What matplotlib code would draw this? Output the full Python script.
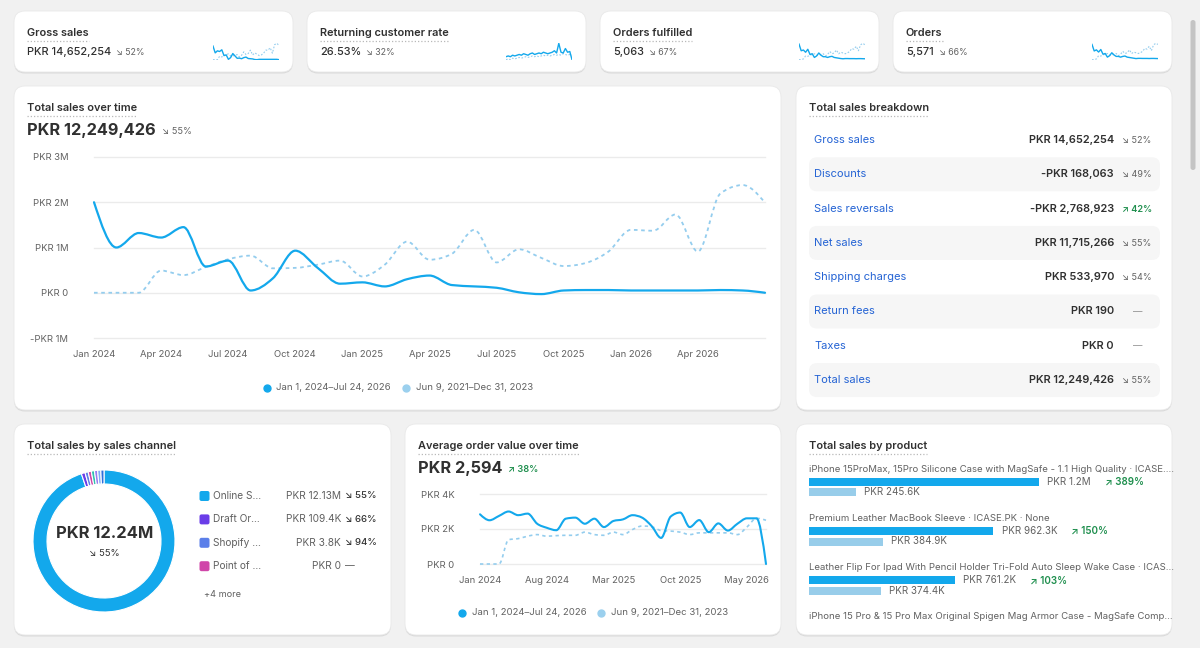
import numpy as np
import matplotlib
matplotlib.use('Agg')
import matplotlib.pyplot as plt
from matplotlib.patches import FancyBboxPatch, PathPatch
from matplotlib.path import Path

plt.rcParams['font.family'] = ['Inter', 'DejaVu Sans']

W, H = 1200, 648

# ---------------- data ----------------
kpi_titles = ['Gross sales', 'Returning customer rate', 'Orders fulfilled', 'Orders']
kpi_values = ['PKR 14,652,254', '26.53%', '5,063', '5,571']
kpi_changes = ['52%', '32%', '67%', '66%']
kpi_up = [False, True, False, False]

spark_gross_cur = [2.0, 1.0, 1.3, 1.2, 1.45, 0.6, 0.7, 0.05, 0.3, 0.9, 0.55, 0.2, 0.23, 0.14, 0.3, 0.38,
                   0.17, 0.14, 0.11, 0.02, 0.0, 0.05, 0.05, 0.05, 0.05, 0.05, 0.05, 0.05, 0.05, 0.05, 0.0]
spark_gross_prev = [0.0, 0.0, 0.0, 0.5, 0.4, 0.6, 0.75, 0.85, 0.55, 0.55, 0.65, 0.75, 0.4, 0.65, 1.15, 0.75,
                    0.9, 1.4, 0.7, 1.0, 0.8, 0.6, 0.7, 0.95, 1.4, 1.4, 1.75, 0.95, 2.2, 2.4, 2.1]
spark_rate_cur = [22, 23, 22, 24, 23, 24, 25, 24, 26, 25, 24, 26, 27, 25, 26, 27, 26, 28, 27, 26, 27, 28, 30,
                  27, 40, 28, 27, 33, 28, 29, 18]
spark_rate_prev = [18, 19, 18, 20, 19, 20, 21, 20, 21, 22, 21, 22, 23, 22, 23, 22, 23, 24, 23, 24, 23, 24,
                   25, 24, 25, 24, 26, 25, 24, 25, 24]
spark_fulfilled_cur = [2.1, 1.2, 1.3, 1.0, 1.4, 0.7, 0.8, 0.3, 0.5, 0.9, 0.6, 0.4, 0.4, 0.3, 0.4, 0.45,
                       0.3, 0.25, 0.2, 0.15, 0.12, 0.15, 0.15, 0.14, 0.14, 0.14, 0.13, 0.14, 0.14, 0.13, 0.12]
spark_fulfilled_prev = [0.0, 0.0, 0.1, 0.5, 0.45, 0.6, 0.7, 0.8, 0.6, 0.6, 0.7, 0.8, 0.5, 0.7, 1.1, 0.8,
                        0.9, 1.3, 0.8, 1.0, 0.9, 0.8, 0.9, 1.1, 1.5, 1.4, 1.8, 1.2, 2.0, 2.2, 2.0]
spark_orders_cur = [2.1, 1.2, 1.35, 1.05, 1.4, 0.75, 0.85, 0.35, 0.55, 0.95, 0.65, 0.45, 0.45, 0.35, 0.45,
                    0.5, 0.35, 0.3, 0.25, 0.2, 0.15, 0.18, 0.18, 0.17, 0.17, 0.17, 0.16, 0.17, 0.17, 0.16, 0.15]
spark_orders_prev = [0.0, 0.0, 0.1, 0.55, 0.5, 0.65, 0.75, 0.85, 0.65, 0.65, 0.75, 0.85, 0.55, 0.75, 1.15,
                     0.85, 0.95, 1.35, 0.85, 1.05, 0.95, 0.85, 0.95, 1.15, 1.55, 1.45, 1.85, 1.25, 2.05, 2.25, 2.1]

main_tick_labels = ['Jan 2024', 'Apr 2024', 'Jul 2024', 'Oct 2024', 'Jan 2025', 'Apr 2025',
                    'Jul 2025', 'Oct 2025', 'Jan 2026', 'Apr 2026']
main_yticks = [-1, 0, 1, 2, 3]
main_ytick_labels = ['-PKR 1M', 'PKR 0', 'PKR 1M', 'PKR 2M', 'PKR 3M']
# monthly total sales, PKR millions (Jan 2024 .. Jul 2026)
sales_current = [2.00, 1.00, 1.32, 1.22, 1.45, 0.58, 0.71, 0.05, 0.32, 0.93, 0.55, 0.20, 0.23, 0.14, 0.30,
                 0.38, 0.17, 0.14, 0.11, 0.01, -0.03, 0.05, 0.06, 0.06, 0.05, 0.05, 0.05, 0.05, 0.06, 0.05, 0.00]
sales_previous = [0.00, 0.00, 0.00, 0.49, 0.39, 0.57, 0.74, 0.82, 0.54, 0.55, 0.62, 0.71, 0.36, 0.62, 1.13,
                  0.73, 0.86, 1.39, 0.67, 0.96, 0.77, 0.59, 0.66, 0.91, 1.39, 1.37, 1.73, 0.91, 2.19, 2.38, 1.99]
legend_current = 'Jan 1, 2024\u2013Jul 24, 2026'
legend_previous = 'Jun 9, 2021\u2013Dec 31, 2023'

breakdown_labels = ['Gross sales', 'Discounts', 'Sales reversals', 'Net sales', 'Shipping charges',
                    'Return fees', 'Taxes', 'Total sales']
breakdown_values = ['PKR 14,652,254', '-PKR 168,063', '-PKR 2,768,923', 'PKR 11,715,266', 'PKR 533,970',
                    'PKR 190', 'PKR 0', 'PKR 12,249,426']
breakdown_changes = ['52%', '49%', '42%', '55%', '54%', None, None, '55%']
breakdown_up = [False, False, True, False, False, None, None, False]

channel_names = ['Online S...', 'Draft Or...', 'Shopify ...', 'Point of ...']
channel_value_labels = ['PKR 12.13M', 'PKR 109.4K', 'PKR 3.8K', 'PKR 0']
channel_changes = ['55%', '66%', '94%', None]
channel_values = [12130000, 109400, 3800, 0, 1200, 800, 500, 200]
channel_colors = ['#13a8ec', '#6a3de8', '#5b7fe9', '#d046a9', '#2fc2b1', '#9a7cf1', '#7eb0f6', '#2f6fdb']

aov_tick_labels = ['Jan 2024', 'Aug 2024', 'Mar 2025', 'Oct 2025', 'May 2026']
aov_yticks = [0, 2000, 4000]
aov_ytick_labels = ['PKR 0', 'PKR 2K', 'PKR 4K']
aov_current = [2840, 2500, 2750, 3000, 2790, 2880, 2300, 2070, 1930, 2590, 2650, 2300, 2590, 2110, 2460,
               2550, 2790, 2650, 2170, 1490, 2710, 2940, 2110, 2510, 1820, 2320, 1910, 2300, 2610, 2610, 0]
aov_previous = [0, 0, 0, 1390, 1450, 1590, 1680, 1590, 1620, 1640, 1640, 1820, 1680, 1640, 1820, 1680, 1970,
                2170, 2130, 1910, 1880, 1820, 1680, 1780, 1780, 1780, 1780, 1680, 2110, 2610, 2500]

product_names = ['iPhone 15ProMax, 15Pro Silicone Case with MagSafe - 1.1 High Quality \u00b7 ICASE....',
                 'Premium Leather MacBook Sleeve \u00b7 ICASE.PK \u00b7 None',
                 'Leather Flip For Ipad With Pencil Holder Tri-Fold Auto Sleep Wake Case \u00b7 ICAS...',
                 'iPhone 15 Pro & 15 Pro Max Original Spigen Mag Armor Case - MagSafe Comp...']
product_current = [1200000, 962300, 761200]
product_previous = [245600, 384900, 374400]
product_current_labels = ['PKR 1.2M', 'PKR 962.3K', 'PKR 761.2K']
product_previous_labels = ['PKR 245.6K', 'PKR 384.9K', 'PKR 374.4K']
product_changes = ['389%', '150%', '103%']

# ---------------- style ----------------
BLUE = '#13a8ec'
LIGHT = '#94cdee'
DARK = '#303030'
GREY = '#616161'
GREEN = '#1f8f4e'
LINK = '#2463d4'
UP, DOWN = '\u2197', '\u2198'

fig = plt.figure(figsize=(12, 6.48), dpi=100, facecolor='#f1f1f1')
bg = fig.add_axes([0, 0, 1, 1])
bg.set_xlim(0, W)
bg.set_ylim(H, 0)
bg.axis('off')
renderer = fig.canvas.get_renderer()


def px_axes(x0, y0, x1, y1):
    a = fig.add_axes([x0 / W, 1 - y1 / H, (x1 - x0) / W, (y1 - y0) / H])
    a.patch.set_visible(False)
    for s in a.spines.values():
        s.set_visible(False)
    return a


def card(x0, y0, x1, y1):
    bg.add_patch(FancyBboxPatch((x0, y0 + 1.5), x1 - x0, y1 - y0, boxstyle='round,pad=0,rounding_size=11',
                                fc='#dadada', ec='none', zorder=1))
    bg.add_patch(FancyBboxPatch((x0, y0), x1 - x0, y1 - y0, boxstyle='round,pad=0,rounding_size=11',
                                fc='white', ec='#e9e9e9', lw=0.6, zorder=2))


def txt(x, y, s, size, color=DARK, weight='normal', ha='left', va='center'):
    return bg.text(x, y, s, fontsize=size, color=color, fontweight=weight, ha=ha, va=va, zorder=6)


def width_of(t):
    return t.get_window_extent(renderer).width


def title(x, y, s):
    t = txt(x, y, s, 7.9, DARK, 'semibold')
    w = width_of(t)
    bg.plot([x, x + w], [y + 7.5, y + 7.5], color='#b9b9b9', lw=0.9, ls=(0, (1, 1.6)), zorder=6)
    return t


def change(x, y, pct, up, size=6.6, weight='normal'):
    if pct is None:
        return txt(x, y, '\u2014', size, GREY)
    col = GREEN if up else GREY
    return txt(x, y, (UP if up else DOWN) + ' ' + pct, size, col, weight)


def smooth_path(x, y):
    x = np.asarray(x, float)
    y = np.asarray(y, float)
    n = len(x)
    h = np.diff(x)
    s = np.diff(y) / h
    t = np.zeros(n)
    for i in range(1, n - 1):
        s0, s1 = s[i - 1], s[i]
        p = (s0 * h[i] + s1 * h[i - 1]) / (h[i - 1] + h[i])
        t[i] = (np.sign(s0) + np.sign(s1)) * min(abs(s0), abs(s1), 0.5 * abs(p))
    t[0] = (3 * s[0] - t[1]) / 2
    t[-1] = (3 * s[-1] - t[-2]) / 2
    verts = [(x[0], y[0])]
    codes = [Path.MOVETO]
    for i in range(n - 1):
        dx = h[i] / 3
        verts += [(x[i] + dx, y[i] + t[i] * dx), (x[i + 1] - dx, y[i + 1] - t[i + 1] * dx), (x[i + 1], y[i + 1])]
        codes += [Path.CURVE4] * 3
    return Path(verts, codes)


def draw_lines(ax, cur, prev, lw_cur=1.6, lw_prev=1.3):
    xs = np.arange(len(cur))
    ax.add_patch(PathPatch(smooth_path(xs, prev), fill=False, ec=LIGHT, lw=lw_prev, ls=(0, (2, 2)),
                           clip_on=False, zorder=3))
    ax.add_patch(PathPatch(smooth_path(xs, cur), fill=False, ec=BLUE, lw=lw_cur, clip_on=False,
                           capstyle='round', joinstyle='round', zorder=4))


# ---------------- KPI cards ----------------
kpi_x = [14, 307, 600, 893]
sparks = [(spark_gross_cur, spark_gross_prev), (spark_rate_cur, spark_rate_prev),
          (spark_fulfilled_cur, spark_fulfilled_prev), (spark_orders_cur, spark_orders_prev)]
for i, x0 in enumerate(kpi_x):
    card(x0, 11, x0 + 279, 72)
    title(x0 + 13, 33, kpi_titles[i])
    v = txt(x0 + 13, 52, kpi_values[i], 7.9, DARK, 'medium')
    change(x0 + 13 + width_of(v) + 5, 52.5, kpi_changes[i], False, 6.3)
    sa = px_axes(x0 + 199, 43, x0 + 265, 60)
    cur, prev = sparks[i]
    xs = np.arange(len(cur))
    sa.plot(xs, prev, color=LIGHT, lw=0.8, ls=(0, (1.5, 1.5)))
    sa.plot(xs, cur, color=BLUE, lw=1.0)
    lo = min(min(cur), min(prev))
    hi = max(max(cur), max(prev))
    sa.set_ylim(lo - 0.02 * (hi - lo), hi + 0.02 * (hi - lo))
    sa.set_xlim(0, len(cur) - 1)
    sa.set_xticks([])
    sa.set_yticks([])

# ---------------- main chart card ----------------
card(14, 86, 781, 410)
title(27, 108, 'Total sales over time')
v = txt(27, 131, 'PKR 12,249,426', 11.7, DARK, 'bold')
change(27 + width_of(v) + 6, 132, '55%', False, 6.6)

ax = px_axes(94, 157, 765, 338)
ax.set_xlim(0, len(sales_current) - 1)
ax.set_ylim(-1, 3)
ax.set_yticks(main_yticks)
ax.set_yticklabels(main_ytick_labels)
ax.set_xticks(np.arange(0, len(sales_current) - 1, 3))
ax.set_xticklabels(main_tick_labels)
ax.tick_params(length=0, labelsize=6.8, labelcolor=GREY)
ax.tick_params(axis='y', pad=18.5)
ax.tick_params(axis='x', pad=8.5)
ax.grid(axis='y', color='#ebebeb', lw=1.0)
ax.set_axisbelow(True)
for gl in ax.get_ygridlines():
    gl.set_clip_on(False)
draw_lines(ax, sales_current, sales_previous)

bg.plot([266.5], [387.5], 'o', color=BLUE, ms=5, zorder=6)
txt(276, 387.5, legend_current, 6.9, GREY)
bg.plot([406], [387.5], 'o', color='#9bd0ee', ms=5, zorder=6)
txt(415.5, 387.5, legend_previous, 6.9, GREY)

# ---------------- breakdown card ----------------
card(796, 86, 1172, 410)
title(809, 108, 'Total sales breakdown')
for i, lab in enumerate(breakdown_labels):
    yc = 140 + 34.3 * i
    if i % 2 == 1:
        bg.add_patch(FancyBboxPatch((809, yc - 17), 351, 34, boxstyle='round,pad=0,rounding_size=8',
                                    fc='#f6f6f6', ec='none', zorder=3))
    txt(814, yc, lab, 8.0, LINK)
    txt(1114, yc, breakdown_values[i], 7.9, DARK, 'semibold', ha='right')
    if breakdown_changes[i] is None:
        txt(1138, yc, '\u2014', 6.8, '#8a8a8a', ha='center')
    else:
        change(1122, yc + 0.5, breakdown_changes[i], breakdown_up[i], 6.5,
               'semibold' if breakdown_up[i] else 'normal')

# ---------------- sales channel card ----------------
card(14, 424, 391, 635)
title(27, 446, 'Total sales by sales channel')
dax = px_axes(33, 470, 175, 612)
total = sum(channel_values)
display_vals = [max(v_, 0.0075 * total) for v_ in channel_values]
dax.pie(display_vals, colors=channel_colors, startangle=90, counterclock=False, radius=1,
        wedgeprops=dict(width=14 / 71, edgecolor='white', linewidth=0.8))
dax.set_xlim(-1, 1)
dax.set_ylim(-1, 1)
txt(104.5, 534, 'PKR 12.24M', 11.9, DARK, 'bold', ha='center')
txt(104.5, 554, DOWN + ' 55%', 6.8, DARK, ha='center')
for i, nm in enumerate(channel_names):
    yc = 496 + 23.4 * i
    bg.add_patch(FancyBboxPatch((199.5, yc - 5), 10, 10, boxstyle='round,pad=0,rounding_size=2',
                                fc=channel_colors[i], ec='none', zorder=5))
    txt(213, yc, nm, 7.3, GREY)
    txt(341, yc, channel_value_labels[i], 7.3, GREY, ha='right')
    if channel_changes[i] is None:
        txt(345, yc, '\u2014', 7.0, GREY)
    else:
        txt(345, yc, DOWN + ' ' + channel_changes[i], 6.9, DARK, 'medium')
txt(204, 594.5, '+4 more', 6.6, GREY)

# ---------------- AOV card ----------------
card(405, 424, 781, 635)
title(418, 446, 'Average order value over time')
v = txt(418, 468.5, 'PKR 2,594', 11.7, DARK, 'bold')
change(418 + width_of(v) + 6, 469.5, '38%', True, 6.6, 'semibold')
aax = px_axes(480, 494, 766, 564)
aax.set_xlim(0, len(aov_current) - 1)
aax.set_ylim(0, 4000)
aax.set_yticks(aov_yticks)
aax.set_yticklabels(aov_ytick_labels)
aax.set_xticks(np.arange(0, len(aov_current) - 1, 7))
aax.set_xticklabels(aov_tick_labels)
aax.tick_params(length=0, labelsize=6.8, labelcolor=GREY)
aax.tick_params(axis='y', pad=18.5)
aax.tick_params(axis='x', pad=8.5)
aax.grid(axis='y', color='#ebebeb', lw=1.0)
aax.set_axisbelow(True)
for gl in aax.get_ygridlines():
    gl.set_clip_on(False)
draw_lines(aax, aov_current, aov_previous, 1.5, 1.2)
bg.plot([462], [612.5], 'o', color=BLUE, ms=5, zorder=6)
txt(472, 612.5, legend_current, 6.9, GREY)
bg.plot([601], [612.5], 'o', color='#9bd0ee', ms=5, zorder=6)
txt(611, 612.5, legend_previous, 6.9, GREY)

# ---------------- product card ----------------
card(796, 424, 1172, 635)
title(809, 446, 'Total sales by product')
pax = px_axes(809, 460, 1159, 625)
pax.set_xlim(0, 1200000 * 350 / 230)
pax.set_ylim(625, 460)
pax.set_xticks([])
pax.set_yticks([])
for i, nm in enumerate(product_names):
    base = 469.3 + 49.2 * i
    txt(809, base, nm, 6.9, GREY)
    if i >= len(product_current):
        continue
    yc, yp = base + 12.5, base + 23
    pax.barh([yc], [product_current[i]], height=8, color=BLUE, edgecolor='none')
    pax.barh([yp], [product_previous[i]], height=8, color='#98cdea', edgecolor='none')
    vt = pax.annotate(product_current_labels[i], (product_current[i], yc), xytext=(6, 0),
                      textcoords='offset points', va='center', ha='left', fontsize=7.1, color=GREY)
    w = width_of(vt)
    pax.annotate(UP + ' ' + product_changes[i], (product_current[i], yc), xytext=((8 + w + 14) * 0.72, 0),
                 textcoords='offset points', va='center', ha='left', fontsize=7.1, color=GREEN,
                 fontweight='semibold')
    pax.annotate(product_previous_labels[i], (product_previous[i], yp), xytext=(6, 0),
                 textcoords='offset points', va='center', ha='left', fontsize=7.1, color=GREY)

# scrollbar
bg.add_patch(FancyBboxPatch((1190.5, 20), 5, 150, boxstyle='round,pad=0,rounding_size=2.5',
                            fc='#c4c4c4', ec='none', zorder=2))

fig.savefig('out.png', dpi=100, facecolor=fig.get_facecolor())
